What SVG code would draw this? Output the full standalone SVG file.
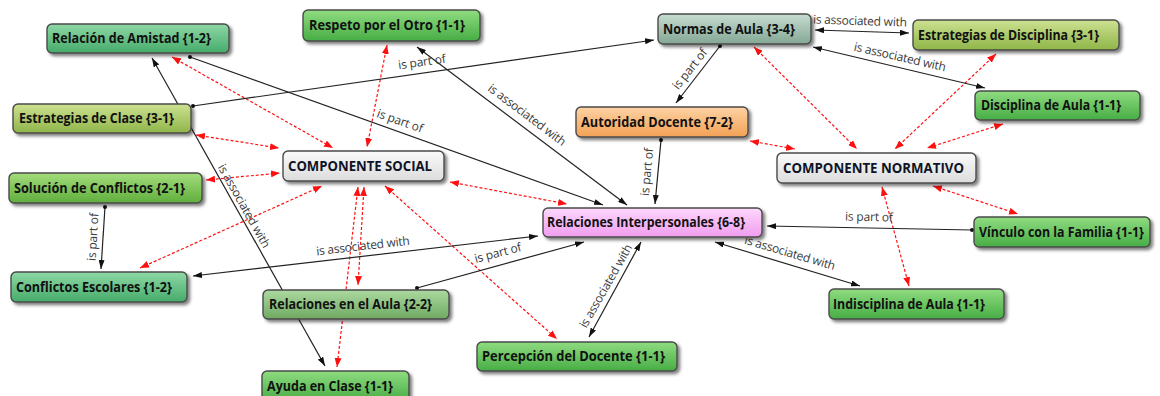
<svg xmlns="http://www.w3.org/2000/svg" width="1160" height="396" viewBox="0 0 1160 396">
  <style>
    .node rect { stroke: #4a4a4a; stroke-width: 1.4; filter: url(#shadow); }
    .node text { font-family: "Open Sans", "Noto Sans", "DejaVu Sans", sans-serif; font-size: 14px; font-weight: 700; fill: #111111; }
    .node.comp text { fill: #0e1426; }
    .link { fill: none; stroke: #222222; stroke-width: 1.2; }
    .dash { fill: none; stroke: #ff1010; stroke-width: 1.2; stroke-dasharray: 3 2; }
    .lbl { font-family: "Open Sans", "Noto Sans", "DejaVu Sans", sans-serif; font-size: 12px; fill: #3a3a3a; }
  </style>
  <defs>
    <filter id="shadow" x="-10%" y="-30%" width="125%" height="180%">
      <feDropShadow dx="2.5" dy="2.5" stdDeviation="1.5" flood-color="#000000" flood-opacity="0.5"/>
    </filter>
    <linearGradient id="gTeal" x1="0" y1="0" x2="0" y2="1">
      <stop offset="0" stop-color="#8ed8a6"/><stop offset="1" stop-color="#45ab6a"/>
    </linearGradient>
    <linearGradient id="gGreen" x1="0" y1="0" x2="0" y2="1">
      <stop offset="0" stop-color="#8fdc80"/><stop offset="1" stop-color="#47ad45"/>
    </linearGradient>
    <linearGradient id="gLime" x1="0" y1="0" x2="0" y2="1">
      <stop offset="0" stop-color="#a4dc7c"/><stop offset="1" stop-color="#5fae3c"/>
    </linearGradient>
    <linearGradient id="gOlive" x1="0" y1="0" x2="0" y2="1">
      <stop offset="0" stop-color="#cde191"/><stop offset="1" stop-color="#8fb548"/>
    </linearGradient>
    <linearGradient id="gSage" x1="0" y1="0" x2="0" y2="1">
      <stop offset="0" stop-color="#acd9a0"/><stop offset="1" stop-color="#6fa962"/>
    </linearGradient>
    <linearGradient id="gGrey" x1="0" y1="0" x2="0" y2="1">
      <stop offset="0" stop-color="#c6dcd0"/><stop offset="1" stop-color="#84a794"/>
    </linearGradient>
    <linearGradient id="gOrange" x1="0" y1="0" x2="0" y2="1">
      <stop offset="0" stop-color="#fdd3a4"/><stop offset="1" stop-color="#f3a155"/>
    </linearGradient>
    <linearGradient id="gPink" x1="0" y1="0" x2="0" y2="1">
      <stop offset="0" stop-color="#fdd8fc"/><stop offset="1" stop-color="#f09cee"/>
    </linearGradient>
    <linearGradient id="gComp" x1="0" y1="0" x2="0" y2="1">
      <stop offset="0" stop-color="#fafafa"/><stop offset="1" stop-color="#dcdcdc"/>
    </linearGradient>
    <marker id="arrow" viewBox="0 0 9 6" refX="9" refY="3" markerWidth="9" markerHeight="6" markerUnits="userSpaceOnUse" orient="auto-start-reverse">
      <path d="M0,0 L9,3 L0,6 z" fill="#111111"/>
    </marker>
    <marker id="dot" viewBox="0 0 4 4" refX="2" refY="2" markerWidth="4" markerHeight="4" markerUnits="userSpaceOnUse">
      <circle cx="2" cy="2" r="2" fill="#111111"/>
    </marker>
    <marker id="redArrow" viewBox="0 0 9 7" refX="9" refY="3.5" markerWidth="9" markerHeight="7" markerUnits="userSpaceOnUse" orient="auto-start-reverse">
      <path d="M0,0 L9,3.5 L0,7 z" fill="#ff1010"/>
    </marker>
  </defs>

  <rect width="1160" height="396" fill="#ffffff"/>

  <!-- connectors -->
  <g id="connectors">
    <!-- red dashed links to the two components -->
    <g marker-start="url(#redArrow)" marker-end="url(#redArrow)">
      <line class="dash" x1="172" y1="57" x2="333" y2="148"/>
      <line class="dash" x1="387" y1="45" x2="367" y2="147"/>
      <line class="dash" x1="196" y1="135" x2="279" y2="148"/>
      <line class="dash" x1="206" y1="180" x2="280" y2="173"/>
      <line class="dash" x1="140" y1="268" x2="322" y2="186"/>
      <line class="dash" x1="364" y1="187" x2="358" y2="285"/>
      <line class="dash" x1="358" y1="187" x2="337" y2="367"/>
      <line class="dash" x1="450" y1="182" x2="567" y2="204"/>
      <line class="dash" x1="385" y1="186" x2="557" y2="339"/>
      <line class="dash" x1="754" y1="47" x2="857" y2="149"/>
      <line class="dash" x1="996" y1="54" x2="895" y2="149"/>
      <line class="dash" x1="1003" y1="124" x2="927" y2="148"/>
      <line class="dash" x1="750" y1="141" x2="795" y2="149"/>
      <line class="dash" x1="882" y1="187" x2="909" y2="286"/>
      <line class="dash" x1="933" y1="186" x2="1018" y2="214"/>
    </g>

    <!-- one-way relations (dot at source) -->
    <g marker-start="url(#dot)" marker-end="url(#arrow)">
      <line class="link" x1="190" y1="57" x2="603" y2="205"/>
      <line class="link" x1="193" y1="106" x2="654" y2="40"/>
      <line class="link" x1="105" y1="207" x2="101" y2="269"/>
      <line class="link" x1="417" y1="288" x2="584" y2="242"/>
      <line class="link" x1="661" y1="140" x2="655" y2="204"/>
      <line class="link" x1="720" y1="46" x2="676" y2="103"/>
      <line class="link" x1="972" y1="230" x2="767" y2="226"/>
    </g>

    <!-- symmetric relations -->
    <g marker-start="url(#arrow)" marker-end="url(#arrow)">
      <line class="link" x1="417" y1="47" x2="627" y2="205"/>
      <line class="link" x1="152" y1="58" x2="325" y2="366"/>
      <line class="link" x1="193" y1="276" x2="538" y2="236"/>
      <line class="link" x1="589" y1="337" x2="641" y2="242"/>
      <line class="link" x1="815" y1="30" x2="909" y2="33"/>
      <line class="link" x1="813" y1="47" x2="985" y2="88"/>
      <line class="link" x1="715" y1="242" x2="860" y2="286"/>
    </g>

    <!-- relation labels -->
    <text class="lbl" text-anchor="middle" textLength="48" transform="translate(400,121) rotate(19.7)" y="4">is part of</text>
    <text class="lbl" text-anchor="middle" textLength="94" transform="translate(527,115) rotate(37)" y="4">is associated with</text>
    <text class="lbl" text-anchor="middle" textLength="94" transform="translate(244,206) rotate(60.6)" y="4">is associated with</text>
    <text class="lbl" text-anchor="middle" textLength="48" transform="translate(422,62) rotate(-8.1)" y="4">is part of</text>
    <text class="lbl" text-anchor="middle" textLength="48" transform="translate(93,237) rotate(-86.3)" y="4">is part of</text>
    <text class="lbl" text-anchor="middle" textLength="94" transform="translate(363,246) rotate(-6.6)" y="4">is associated with</text>
    <text class="lbl" text-anchor="middle" textLength="48" transform="translate(498,253) rotate(-14.8)" y="4">is part of</text>
    <text class="lbl" text-anchor="middle" textLength="94" transform="translate(606,286) rotate(-60.3)" y="4">is associated with</text>
    <text class="lbl" text-anchor="middle" textLength="48" transform="translate(647,172) rotate(-84.6)" y="4">is part of</text>
    <text class="lbl" text-anchor="middle" textLength="48" transform="translate(690,69) rotate(-51.8)" y="4">is part of</text>
    <text class="lbl" text-anchor="middle" textLength="94" transform="translate(860,21) rotate(1.8)" y="4">is associated with</text>
    <text class="lbl" text-anchor="middle" textLength="94" transform="translate(900,57) rotate(12.8)" y="4">is associated with</text>
    <text class="lbl" text-anchor="middle" textLength="48" transform="translate(869,217) rotate(1.1)" y="4">is part of</text>
    <text class="lbl" text-anchor="middle" textLength="94" transform="translate(790,253) rotate(16.5)" y="4">is associated with</text>
  </g>

  <!-- concept nodes -->
  <g id="relacion-amistad" class="node">
    <rect x="47" y="24" width="182" height="29" rx="5" fill="url(#gTeal)"/>
    <text x="52" y="43" textLength="159" lengthAdjust="spacingAndGlyphs">Relación de Amistad {1-2}</text>
  </g>
  <g id="respeto-otro" class="node">
    <rect x="303" y="10" width="177" height="31" rx="5" fill="url(#gGreen)"/>
    <text x="309" y="30" textLength="156" lengthAdjust="spacingAndGlyphs">Respeto por el Otro {1-1}</text>
  </g>
  <g id="normas-aula" class="node">
    <rect x="658" y="14" width="153" height="30" rx="5" fill="url(#gGrey)"/>
    <text x="663" y="33.5" textLength="132" lengthAdjust="spacingAndGlyphs">Normas de Aula {3-4}</text>
  </g>
  <g id="estrategias-disciplina" class="node">
    <rect x="913" y="20" width="206" height="30" rx="5" fill="url(#gOlive)"/>
    <text x="918" y="39.5" textLength="181" lengthAdjust="spacingAndGlyphs">Estrategias de Disciplina {3-1}</text>
  </g>
  <g id="disciplina-aula" class="node">
    <rect x="975" y="91" width="165" height="29" rx="5" fill="url(#gGreen)"/>
    <text x="981" y="110" textLength="140" lengthAdjust="spacingAndGlyphs">Disciplina de Aula {1-1}</text>
  </g>
  <g id="estrategias-clase" class="node">
    <rect x="13" y="104" width="178" height="29" rx="5" fill="url(#gOlive)"/>
    <text x="19" y="123" textLength="155" lengthAdjust="spacingAndGlyphs">Estrategias de Clase {3-1}</text>
  </g>
  <g id="autoridad-docente" class="node">
    <rect x="576" y="107" width="172" height="30" rx="5" fill="url(#gOrange)"/>
    <text x="581" y="126.5" textLength="152" lengthAdjust="spacingAndGlyphs">Autoridad Docente {7-2}</text>
  </g>
  <g id="componente-social" class="node comp">
    <rect x="283" y="151" width="161" height="30" rx="5" fill="url(#gComp)"/>
    <text x="288" y="170.5" textLength="144" lengthAdjust="spacingAndGlyphs">COMPONENTE SOCIAL</text>
  </g>
  <g id="componente-normativo" class="node comp">
    <rect x="777" y="153" width="199" height="30" rx="5" fill="url(#gComp)"/>
    <text x="783" y="172.5" textLength="181" lengthAdjust="spacingAndGlyphs">COMPONENTE NORMATIVO</text>
  </g>
  <g id="solucion-conflictos" class="node">
    <rect x="9" y="173" width="193" height="30" rx="5" fill="url(#gLime)"/>
    <text x="14" y="192.5" textLength="171" lengthAdjust="spacingAndGlyphs">Solución de Conflictos {2-1}</text>
  </g>
  <g id="relaciones-interpersonales" class="node">
    <rect x="543" y="208" width="219" height="29" rx="5" fill="url(#gPink)"/>
    <text x="547" y="227" textLength="198" lengthAdjust="spacingAndGlyphs">Relaciones Interpersonales {6-8}</text>
  </g>
  <g id="vinculo-familia" class="node">
    <rect x="974" y="217" width="176" height="30" rx="5" fill="url(#gGreen)"/>
    <text transform="translate(979,236.5) scale(0.85,1)" x="0" y="0" textLength="194" lengthAdjust="spacingAndGlyphs">Vínculo con la Familia {1-1}</text>
  </g>
  <g id="conflictos-escolares" class="node">
    <rect x="11" y="272" width="176" height="30" rx="5" fill="url(#gTeal)"/>
    <text x="16" y="291.5" textLength="156" lengthAdjust="spacingAndGlyphs">Conflictos Escolares {1-2}</text>
  </g>
  <g id="relaciones-aula" class="node">
    <rect x="263" y="290" width="186" height="29" rx="5" fill="url(#gSage)"/>
    <text x="269" y="309" textLength="163" lengthAdjust="spacingAndGlyphs">Relaciones en el Aula {2-2}</text>
  </g>
  <g id="indisciplina-aula" class="node">
    <rect x="829" y="289" width="175" height="30" rx="5" fill="url(#gGreen)"/>
    <text x="833" y="308.5" textLength="152" lengthAdjust="spacingAndGlyphs">Indisciplina de Aula {1-1}</text>
  </g>
  <g id="percepcion-docente" class="node">
    <rect x="477" y="342" width="200" height="29" rx="5" fill="url(#gGreen)"/>
    <text x="482" y="361" textLength="183" lengthAdjust="spacingAndGlyphs">Percepción del Docente {1-1}</text>
  </g>
  <g id="ayuda-clase" class="node">
    <rect x="262" y="371" width="147" height="30" rx="5" fill="url(#gGreen)"/>
    <text x="267" y="390.5" textLength="126" lengthAdjust="spacingAndGlyphs">Ayuda en Clase {1-1}</text>
  </g>
</svg>
